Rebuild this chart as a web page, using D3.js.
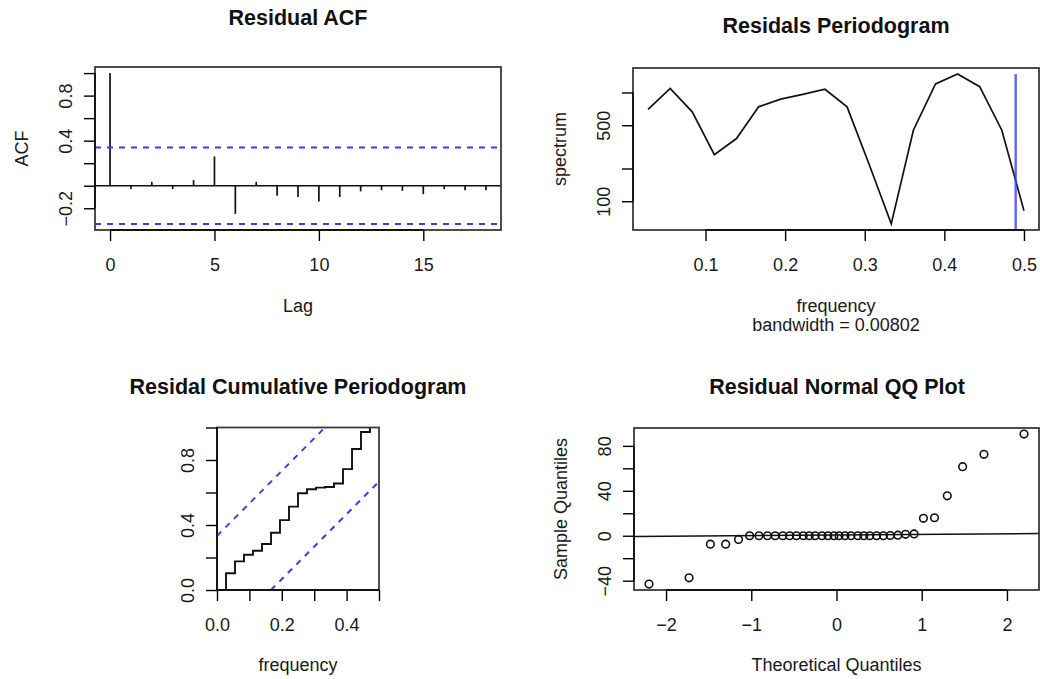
<!DOCTYPE html>
<html>
<head>
<meta charset="utf-8">
<script src="https://cdn.jsdelivr.net/npm/d3@7"></script>
<style>
  body { margin: 0; background: #fff; }
</style>
</head>
<body>
<div id="chart"></div>
<script>
/////////////////////
// Data
/////////////////////

// Residual ACF
const acfLags = [0, 1, 2, 3, 4, 5, 6, 7, 8, 9, 10, 11, 12, 13, 14, 15, 16, 17, 18];
const acfValues = [1.0, -0.03, 0.035, -0.03, 0.05, 0.26, -0.25, 0.035, -0.09, -0.1,
  -0.14, -0.1, -0.05, -0.04, -0.045, -0.075, -0.03, -0.04, -0.04];
const acfBound = 0.339;
const acfXTicks = [0, 5, 10, 15];
const acfYTicks = [-0.2, 0, 0.2, 0.4, 0.6, 0.8, 1.0];
const acfYLabels = [-0.2, 0.4, 0.8];

// Residual periodogram
const specFreq = [0.0278, 0.0556, 0.0833, 0.1111, 0.1389, 0.1667, 0.1944, 0.2222, 0.25,
  0.2778, 0.3056, 0.3333, 0.3611, 0.3889, 0.4167, 0.4444, 0.4722, 0.5];
const specValues = [698, 1091, 664, 268, 377, 738, 869, 960, 1070, 738, 218, 62, 450,
  1197, 1479, 1130, 450, 82];
const specMarkFreq = 0.4896;
const specXTicks = [0.1, 0.2, 0.3, 0.4, 0.5];
const specYTicks = [100, 200, 500, 1000];
const specYLabels = [100, 500];
const bandwidthText = "bandwidth = 0.00802";

// Cumulative periodogram
const cpFreq = [0, 0.0278, 0.0556, 0.0833, 0.1111, 0.1389, 0.1667, 0.1944, 0.2222, 0.25,
  0.2778, 0.3056, 0.3333, 0.3611, 0.3889, 0.4167, 0.4444, 0.4722];
const cpValues = [0, 0.103, 0.176, 0.217, 0.242, 0.283, 0.352, 0.43, 0.513, 0.595, 0.62,
  0.63, 0.634, 0.655, 0.744, 0.868, 0.972, 1.0];
const cpCrit = 0.333;
const cpXTicks = [0, 0.1, 0.2, 0.3, 0.4, 0.5];
const cpXLabels = [0, 0.2, 0.4];
const cpYTicks = [0, 0.2, 0.4, 0.6, 0.8, 1.0];
const cpYLabels = [0, 0.4, 0.8];

// Normal QQ plot
const qqTheoretical = [-2.2, -1.73, -1.48, -1.3, -1.15, -1.02, -0.91, -0.81, -0.72, -0.63,
  -0.55, -0.47, -0.39, -0.32, -0.25, -0.17, -0.1, -0.03, 0.03, 0.1, 0.17, 0.25, 0.32, 0.39,
  0.47, 0.55, 0.63, 0.72, 0.81, 0.91, 1.02, 1.15, 1.3, 1.48, 1.73, 2.2];
const qqSample = [-43, -37.5, -7.5, -7.5, -3.3, 0, 0, 0, 0, 0, 0, 0, 0, 0, 0, 0, 0, 0,
  0, 0, 0, 0, 0, 0, 0, 0, 0.2, 0.5, 1.3, 1.6, 15.5, 16, 35.5, 61.5, 72.5, 90.5];
const qqLineIntercept = 0.7;
const qqLineSlope = 0.55;
const qqXTicks = [-2, -1, 0, 1, 2];
const qqYTicks = [-40, -20, 0, 20, 40, 60, 80];
const qqYLabels = [-40, 0, 40, 80];

/////////////////////
// Page setup
/////////////////////
const font = "'Liberation Sans', Arial, Helvetica, sans-serif";
const blue = "#3b3bff";
const textSize = 18;
const titleSize = 21.5;

const svg = d3.select("#chart")
  .append("svg")
  .attr("width", 1040)
  .attr("height", 679)
  .style("font-family", font);

svg.append("rect").attr("width", 1040).attr("height", 679).attr("fill", "#fff");

// helpers shared by the four panels
function clipFor(box, id) {
  svg.append("clipPath").attr("id", id)
    .append("rect")
    .attr("x", box.left).attr("y", box.top)
    .attr("width", box.right - box.left).attr("height", box.bottom - box.top);
  return svg.append("g").attr("clip-path", `url(#${id})`);
}

function drawBox(box) {
  svg.append("rect")
    .attr("x", box.left).attr("y", box.top)
    .attr("width", box.right - box.left).attr("height", box.bottom - box.top)
    .attr("fill", "none").attr("stroke", "#3a3a3a").attr("stroke-width", 1.8);
}

function bottomAxis(box, scale, ticks, labelled, fmt) {
  const ax = svg.append("g")
    .attr("transform", `translate(0,${box.bottom})`)
    .call(d3.axisBottom(scale).tickValues(ticks).tickSize(11)
      .tickFormat(d => labelled.includes(d) ? fmt(d) : ""));
  ax.attr("font-size", textSize).attr("font-family", font);
  ax.select(".domain").remove();
  ax.selectAll(".tick line").attr("stroke", "#000").attr("stroke-width", 1.4);
  ax.selectAll(".tick text").attr("y", 41).attr("dy", null).attr("fill", "#1a1a1a");
  ax.append("line")
    .attr("x1", scale(ticks[0])).attr("x2", scale(ticks[ticks.length - 1]))
    .attr("stroke", "#000").attr("stroke-width", 1.4);
}

function leftAxis(box, scale, ticks, labelled, fmt) {
  const ax = svg.append("g")
    .attr("transform", `translate(${box.left},0)`)
    .call(d3.axisLeft(scale).tickValues(ticks).tickSize(11)
      .tickFormat(d => labelled.includes(d) ? fmt(d) : ""));
  ax.attr("font-size", textSize).attr("font-family", font);
  ax.select(".domain").remove();
  ax.selectAll(".tick line").attr("stroke", "#000").attr("stroke-width", 1.4);
  ax.selectAll(".tick text")
    .attr("transform", "rotate(-90)")
    .attr("x", 0).attr("y", -23.5).attr("dy", null)
    .attr("text-anchor", "middle").attr("fill", "#1a1a1a");
  ax.append("line")
    .attr("y1", scale(ticks[0])).attr("y2", scale(ticks[ticks.length - 1]))
    .attr("stroke", "#000").attr("stroke-width", 1.4);
}

function title(text, x, y) {
  svg.append("text").attr("x", x).attr("y", y)
    .attr("text-anchor", "middle").attr("font-size", titleSize).attr("font-weight", "bold")
    .attr("fill", "#111").text(text);
}

function xLabel(box, text, dy) {
  svg.append("text").attr("x", (box.left + box.right) / 2).attr("y", box.bottom + dy)
    .attr("text-anchor", "middle").attr("font-size", textSize).attr("fill", "#1a1a1a").text(text);
}

function yLabel(box, text) {
  const cy = (box.top + box.bottom) / 2;
  svg.append("text")
    .attr("transform", `translate(${box.left - 67},${cy}) rotate(-90)`)
    .attr("text-anchor", "middle").attr("font-size", textSize).attr("fill", "#1a1a1a").text(text);
}

/////////////////////
// Panel 1: Residual ACF
/////////////////////
const acfBox = { left: 95, right: 501, top: 67, bottom: 230 };
const acfX = d3.scaleLinear().domain([-0.72, 18.72]).range([acfBox.left, acfBox.right]);
const acfY = d3.scaleLinear().domain([-0.393, 1.054]).range([acfBox.bottom, acfBox.top]);

const acfG = clipFor(acfBox, "clip-acf");
acfG.selectAll(".spike")
  .data(acfLags)
  .join("line")
  .attr("x1", (d) => acfX(d)).attr("x2", (d) => acfX(d))
  .attr("y1", acfY(0)).attr("y2", (d, i) => acfY(acfValues[i]))
  .attr("stroke", "#111").attr("stroke-width", 1.7);
acfG.append("line")
  .attr("x1", acfBox.left).attr("x2", acfBox.right)
  .attr("y1", acfY(0)).attr("y2", acfY(0))
  .attr("stroke", "#111").attr("stroke-width", 1.6);
acfG.selectAll(".bound")
  .data([acfBound, -acfBound])
  .join("line")
  .attr("x1", acfBox.left).attr("x2", acfBox.right)
  .attr("y1", (d) => acfY(d)).attr("y2", (d) => acfY(d))
  .attr("stroke", blue).attr("stroke-width", 2).attr("stroke-dasharray", "6,6");

drawBox(acfBox);
bottomAxis(acfBox, acfX, acfXTicks, acfXTicks, d3.format("d"));
leftAxis(acfBox, acfY, acfYTicks, acfYLabels, d3.format(".1f"));
title("Residual ACF", 298, 25);
xLabel(acfBox, "Lag", 82);
yLabel(acfBox, "ACF");

/////////////////////
// Panel 2: Residual periodogram (log y)
/////////////////////
const specBox = { left: 633, right: 1039, top: 68, bottom: 230 };
const specX = d3.scaleLinear().domain([0.0089, 0.5189]).range([specBox.left, specBox.right]);
const specY = d3.scaleLog().domain([54.4, 1679]).range([specBox.bottom, specBox.top]);

const specG = clipFor(specBox, "clip-spec");
specG.append("path")
  .datum(specFreq)
  .attr("d", d3.line().x((d) => specX(d)).y((d, i) => specY(specValues[i])))
  .attr("fill", "none").attr("stroke", "#111").attr("stroke-width", 1.7);
specG.append("line")
  .attr("x1", specX(specMarkFreq)).attr("x2", specX(specMarkFreq))
  .attr("y1", specY(d3.max(specValues))).attr("y2", specBox.bottom)
  .attr("stroke", blue).attr("stroke-width", 2.4).attr("opacity", 0.8);

drawBox(specBox);
bottomAxis(specBox, specX, specXTicks, specXTicks, d3.format(".1f"));
leftAxis(specBox, specY, specYTicks, specYLabels, d3.format("d"));
title("Residals Periodogram", 836, 33);
xLabel(specBox, "frequency", 82);
xLabel(specBox, bandwidthText, 101);
yLabel(specBox, "spectrum");

/////////////////////
// Panel 3: Cumulative periodogram
/////////////////////
const cpBox = { left: 217, right: 379, top: 427.5, bottom: 590 };
const cpX = d3.scaleLinear().domain([0, 0.5]).range([cpBox.left, cpBox.right]);
const cpY = d3.scaleLinear().domain([0, 1]).range([cpBox.bottom, cpBox.top]);

const cpG = clipFor(cpBox, "clip-cp");
cpG.append("path")
  .datum(cpFreq)
  .attr("d", d3.line().curve(d3.curveStepAfter)
    .x((d) => cpX(d)).y((d, i) => cpY(cpValues[i])))
  .attr("fill", "none").attr("stroke", "#111").attr("stroke-width", 1.9);
const cpBands = [
  [[0, cpCrit], [0.5 * (1 - cpCrit), 1]],
  [[0.5 * cpCrit, 0], [0.5, 1 - cpCrit]]
];
cpG.selectAll(".band")
  .data(cpBands)
  .join("path")
  .attr("d", d3.line().x((d) => cpX(d[0])).y((d) => cpY(d[1])))
  .attr("fill", "none").attr("stroke", blue).attr("stroke-width", 2)
  .attr("stroke-dasharray", "6,6");

drawBox(cpBox);
bottomAxis(cpBox, cpX, cpXTicks, cpXLabels, d3.format(".1f"));
leftAxis(cpBox, cpY, cpYTicks, cpYLabels, d3.format(".1f"));
title("Residal Cumulative Periodogram", 298, 394);
xLabel(cpBox, "frequency", 81);

/////////////////////
// Panel 4: Normal QQ plot
/////////////////////
const qqBox = { left: 634, right: 1039, top: 428, bottom: 590 };
const qqX = d3.scaleLinear().domain([-2.376, 2.376]).range([qqBox.left, qqBox.right]);
const qqY = d3.scaleLinear().domain([-48.3, 95.9]).range([qqBox.bottom, qqBox.top]);

const qqG = clipFor(qqBox, "clip-qq");
const qqEnds = qqX.domain();
qqG.append("line")
  .attr("x1", qqX(qqEnds[0])).attr("x2", qqX(qqEnds[1]))
  .attr("y1", qqY(qqLineIntercept + qqLineSlope * qqEnds[0]))
  .attr("y2", qqY(qqLineIntercept + qqLineSlope * qqEnds[1]))
  .attr("stroke", "#111").attr("stroke-width", 1.5);
svg.append("g")
  .selectAll("circle")
  .data(qqTheoretical)
  .join("circle")
  .attr("cx", (d) => qqX(d))
  .attr("cy", (d, i) => qqY(qqSample[i]))
  .attr("r", 3.8)
  .attr("fill", "none").attr("stroke", "#111").attr("stroke-width", 1.6);

drawBox(qqBox);
bottomAxis(qqBox, qqX, qqXTicks, qqXTicks, d3.format("d"));
leftAxis(qqBox, qqY, qqYTicks, qqYLabels, d3.format("d"));
title("Residual Normal QQ Plot", 837, 394);
xLabel(qqBox, "Theoretical Quantiles", 81);
yLabel(qqBox, "Sample Quantiles");
</script>
</body>
</html>
